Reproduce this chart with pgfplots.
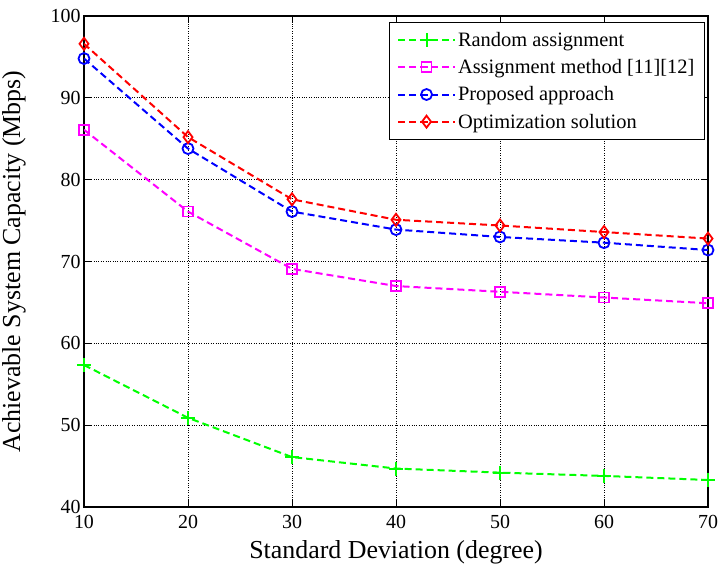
\documentclass[border=0pt]{standalone}
\usepackage{pgfplots}
\pgfplotsset{compat=1.18}
\usepackage{fontspec}
\setmainfont{Liberation Serif}
\definecolor{mgreen}{RGB}{0,255,0}
\definecolor{mmag}{RGB}{255,0,255}
\definecolor{mblue}{RGB}{0,0,255}
\definecolor{mred}{RGB}{255,0,0}
\begin{document}
\begin{tikzpicture}[x=1bp,y=1bp]
\begin{axis}[
  scale only axis,
  width=624bp, height=491bp,
  xmin=10, xmax=70, ymin=40, ymax=100,
  xtick={10,20,...,70}, ytick={40,50,...,100},
  /pgf/number format/assume math mode=true,
  tick label style={font=\fontsize{20}{22}\selectfont},
  xticklabel style={yshift=-5bp},
  yticklabel style={xshift=0bp},
  label style={font=\fontsize{26}{28}\selectfont},
  xlabel={Standard Deviation (degree)},
  ylabel={Achievable System Capacity (Mbps)},
  xlabel style={at={(axis description cs:0.5,0)}, anchor=center, yshift=-45bp},
  ylabel style={at={(axis description cs:0,0.5)}, anchor=center, yshift=70bp},
  grid=major,
  major grid style={black, dotted, line width=0.7bp},
  axis line style={black, line width=1.6bp},
  tick style={black, line width=0.8bp},
  major tick length=7bp,
  tick align=inside,
  legend style={at={(0.995,0.988)}, anchor=north east, draw=black, line width=1bp,
    font=\fontsize{20.5}{22}\selectfont, row sep=7.5bp, inner xsep=8bp, inner ysep=8bp},
  legend cell align=left,
  legend image code/.code={
    \draw[mark repeat=2,mark phase=2] plot coordinates {(0bp,0bp) (28.5bp,0bp) (57bp,0bp)};
  },
  every axis plot/.append style={line width=2bp, dash pattern=on 7bp off 4bp},
]
\addplot[color=mgreen, mark=+, mark size=7bp, mark options={solid, line width=2bp}]
  coordinates {(10,57.35) (20,50.9) (30,46.1) (40,44.7) (50,44.2) (60,43.8) (70,43.3)};
\addlegendentry{Random assignment}
\addplot[color=mmag, mark=square, mark size=5bp, mark options={solid, line width=1.8bp}]
  coordinates {(10,86.1) (20,76.1) (30,69.1) (40,67.0) (50,66.3) (60,65.6) (70,64.9)};
\addlegendentry{Assignment method [11][12]}
\addplot[color=mblue, mark=o, mark size=5.5bp, mark options={solid, line width=1.8bp}]
  coordinates {(10,94.8) (20,83.8) (30,76.1) (40,73.9) (50,73.0) (60,72.3) (70,71.4)};
\addlegendentry{Proposed approach}
\addplot[color=mred, mark=diamond, mark size=6bp, mark options={solid, line width=1.8bp}]
  coordinates {(10,96.6) (20,85.2) (30,77.6) (40,75.1) (50,74.4) (60,73.6) (70,72.8)};
\addlegendentry{Optimization solution}
\end{axis}
\pgfresetboundingbox
\path[use as bounding box] ([shift={(-84bp,-60bp)}]current axis.south west) rectangle ([shift={(13bp,16bp)}]current axis.north east);
\end{tikzpicture}
\end{document}
